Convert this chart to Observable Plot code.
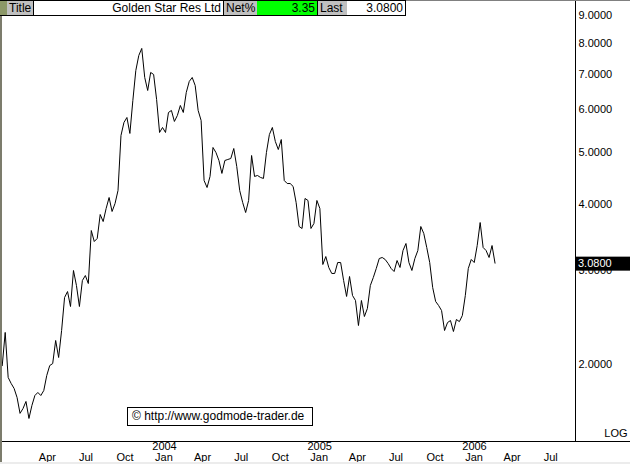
<!DOCTYPE html>
<html>
<head>
<meta charset="utf-8">
<script src="https://cdn.jsdelivr.net/npm/d3@7"></script>
<script src="https://cdn.jsdelivr.net/npm/@observablehq/plot@0.6"></script>
<style>
  body { margin:0; background:#fff; }
  #wrap { position:relative; width:630px; height:464px; overflow:hidden; background:#fff; font-family:"Liberation Sans", Arial, sans-serif; }
  .cell { position:absolute; top:1px; height:14px; line-height:14px; font-size:12px; color:#000; box-sizing:border-box; white-space:nowrap; }
  .gray { background:#c0c0c0; padding-left:2px; }
  .val { text-align:right; padding-right:2px; }
</style>
</head>
<body>
<div id="wrap">
  <div id="chart"></div>
</div>
<script>
// ---- data ----
const title = "Golden Star Res Ltd";
const netPct = "3.35";
const lastPrice = 3.08;
const startDate = "2002-12-12";   // first weekly close
const prices = [
  1.98, 2.285, 1.882, 1.834, 1.795, 1.726, 1.612, 1.646, 1.697, 1.577,
  1.668, 1.741, 1.764, 1.741, 1.779, 1.898, 1.981, 1.998, 2.207, 2.051,
  2.304, 2.656, 2.725, 2.555, 2.984, 2.797, 2.555, 2.858, 2.920, 2.821,
  3.545, 3.381, 3.426, 3.798, 3.685, 3.898, 4.087, 3.848, 3.983, 4.212,
  5.339, 5.647, 5.770, 5.386, 6.209, 7.066, 7.537, 7.770, 6.856, 6.482,
  7.006, 6.945, 6.236, 5.409, 5.527, 5.409, 5.896, 5.947, 5.672, 5.820,
  6.077, 5.896, 6.427, 6.739, 6.856, 6.623, 5.947, 5.696, 4.398, 4.267,
  4.475, 5.070, 4.961, 4.794, 4.534, 4.794, 4.815, 4.835, 5.048, 4.672,
  4.212, 4.000, 3.831, 4.035, 4.898, 4.475, 4.494, 4.456, 4.437, 4.961,
  5.362, 5.527, 5.203, 5.026, 5.247, 4.398, 4.341, 4.341, 4.286, 4.000,
  3.607, 3.576, 4.070, 4.035, 3.576, 3.654, 4.035, 3.898, 3.062, 3.169,
  3.023, 2.946, 2.946, 3.088, 3.088, 2.858, 2.668, 2.908, 2.679, 2.622,
  2.354, 2.622, 2.447, 2.533, 2.797, 2.895, 3.010, 3.142, 3.156, 3.129,
  3.075, 3.010, 2.971, 3.115, 3.023, 3.252, 3.352, 3.088, 2.984, 3.142,
  3.252, 3.607, 3.500, 3.295, 3.088, 2.773, 2.611, 2.566, 2.511, 2.304,
  2.384, 2.405, 2.294, 2.416, 2.394, 2.458, 2.679, 3.010, 3.129, 3.088,
  3.323, 3.669, 3.295, 3.252, 3.156, 3.323, 3.08
];
const monthTicks = ["2003-04-01","2003-07-01","2003-10-01","2004-01-01","2004-04-01","2004-07-01","2004-10-01",
                    "2005-01-01","2005-04-01","2005-07-01","2005-10-01","2006-01-01","2006-04-01","2006-07-01"];
const monthLabels = ["Apr","Jul","Oct","Jan","Apr","Jul","Oct","Jan","Apr","Jul","Oct","Jan","Apr","Jul"];
const yearTicks = ["2004-01-01","2005-01-01","2006-01-01"];
const yearLabels = ["2004","2005","2006"];
const yTicks = [2, 3, 4, 5, 6, 7, 8, 9];
const xDomain = ["2002-12-15", "2006-08-24T19:00:00Z"];
const yDomain = [1.428, 9.553];

// ---- build ----
const series = prices.map((p, i) => ({date: d3.utcDay.offset(new Date(startDate), 7 * i), close: p}));
const months = monthTicks.map((d, i) => ({date: new Date(d), label: monthLabels[i]}));
const years = yearTicks.map((d, i) => ({date: new Date(d), label: yearLabels[i]}));
const fmt = d3.format(".4f");
const font = "Liberation Sans, Arial, sans-serif";

const chart = Plot.plot({
  width: 630, height: 464,
  marginLeft: 3, marginRight: 55, marginTop: 0, marginBottom: 23,
  style: {fontFamily: font, fontSize: "11px", background: "transparent", overflow: "visible"},
  x: {type: "utc", domain: xDomain.map(d => new Date(d)), axis: null},
  y: {type: "log", domain: yDomain, axis: null},
  marks: [
    Plot.frame({anchor: "right", stroke: "#000"}),
    Plot.axisY(yTicks, {anchor: "right", label: null, tickSize: 0, tickPadding: 3, tickFormat: fmt, fontSize: 11, fill: "#000", textAnchor: "start", dy: 1.5}),
    Plot.line(series, {x: "date", y: "close", stroke: "#000", strokeWidth: 1}),
    Plot.text(months, {x: "date", text: "label", frameAnchor: "bottom", dy: 19.5, dx: -1.5, fontSize: 11, fill: "#000"}),
    Plot.text(years, {x: "date", text: "label", frameAnchor: "bottom", dy: 8.5, dx: -1, fontSize: 11, fill: "#000"}),
    Plot.text(["LOG"], {frameAnchor: "bottom-right", dx: 52, dy: -5, textAnchor: "end", fontSize: 11, fill: "#000"})
  ]
});
document.getElementById("chart").appendChild(chart);

// last-price marker and bottom rule, placed through the plot's scales
const svg = d3.select(chart);
const ys = chart.scale("y");
const yb = ys.apply(yDomain[0]);
svg.append("line").attr("x1", 0).attr("x2", 630).attr("y1", yb + 0.5).attr("y2", yb + 0.5).attr("stroke", "#000");
const yl = ys.apply(lastPrice);
svg.append("rect").attr("x", 576).attr("y", yl - 6).attr("width", 54).attr("height", 14).attr("fill", "#000");
svg.append("text").attr("x", 578).attr("y", yl + 1).attr("dy", "0.32em").attr("fill", "#fff")
   .attr("text-anchor", "start").attr("font-size", 11).attr("font-family", font).text(fmt(lastPrice));

// borders of the window
const wrap = document.getElementById("wrap");
function box(css, html) { const d = document.createElement("div"); d.style.cssText = css; if (html) d.innerHTML = html; wrap.appendChild(d); return d; }
box("position:absolute;left:0;top:0;width:630px;height:1px;background:#808080");
box("position:absolute;left:0;top:0;width:2px;height:464px;background:#7c7c6c");
box("position:absolute;left:0;top:462px;width:630px;height:2px;background:#ececec");

// title bar
box("position:absolute;left:0;top:0;width:406px;height:16px;background:#000");
box("position:absolute;left:0;top:1px;width:7px;height:14px;background:#8c9868");
const c1 = box("left:7px;width:26px;", "Title"); c1.className = "cell gray";
const c2 = box("left:34px;width:189px;background:#fff;", title); c2.className = "cell val";
const c3 = box("left:224px;width:33px;", "Net%"); c3.className = "cell gray";
const c4 = box("left:257px;width:60px;background:#00ff00;", netPct); c4.className = "cell val";
const c5 = box("left:318px;width:29px;", "Last"); c5.className = "cell gray";
const c6 = box("left:347px;width:58px;background:#fff;", fmt(lastPrice)); c6.className = "cell val";

// copyright box
box("position:absolute;left:127px;top:407px;width:186px;height:19px;box-sizing:border-box;border:1px solid #000;background:#fff;font-size:12px;line-height:17px;padding-left:4px;white-space:nowrap;font-family:" + font, "&copy; http://www.godmode-trader.de");
</script>
</body>
</html>
